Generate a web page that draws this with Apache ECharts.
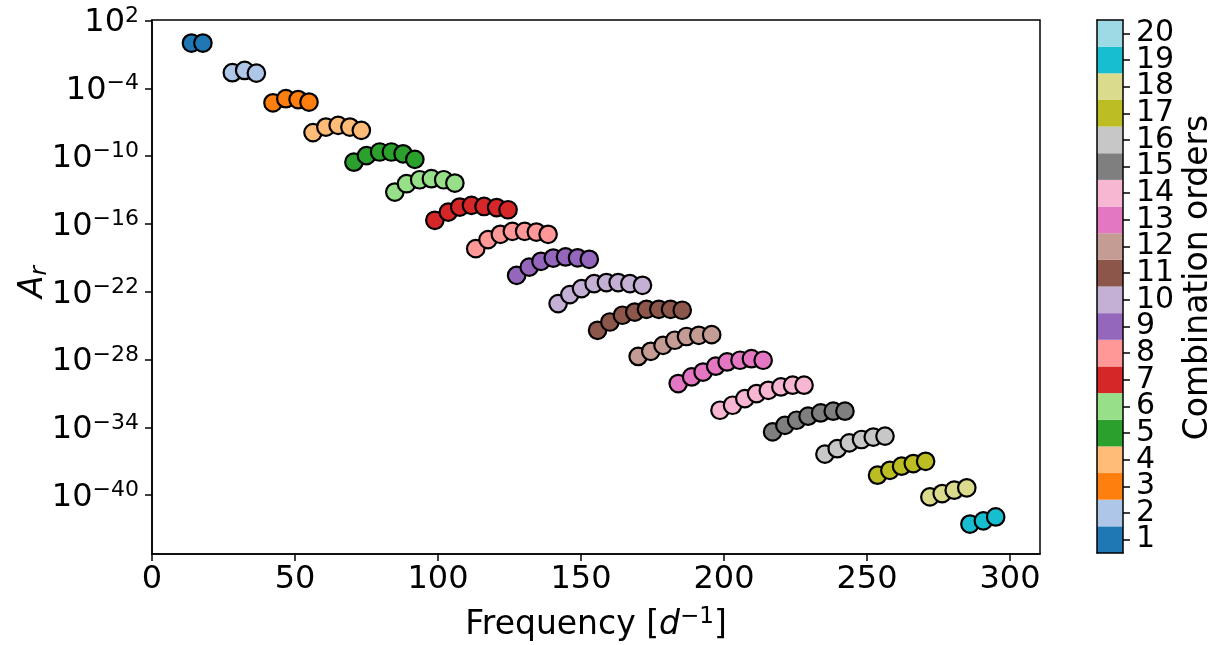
<!DOCTYPE html>
<html>
<head>
<meta charset="utf-8">
<script src="https://cdn.jsdelivr.net/npm/echarts@6/dist/echarts.min.js"></script>
<style>
html,body{margin:0;padding:0;background:#fff;}
#chart{width:1215px;height:645px;}
</style>
</head>
<body>
<div id="chart"></div>
<script>
// Combination orders (1..19 plotted; colorbar spans 1..20)
const orders = [1,2,3,4,5,6,7,8,9,10,11,12,13,14,15,16,17,18,19];

// Frequencies [d^-1] per combination order
const freqs = [
  [13.8, 17.8],
  [28.1, 32.4, 36.5],
  [42.3, 46.8, 51.1, 54.9],
  [56.3, 60.8, 65.1, 69.2, 73.2],
  [70.6, 75.0, 79.6, 83.7, 87.8, 91.9],
  [84.9, 89.0, 93.6, 97.7, 102.0, 105.9],
  [98.9, 103.6, 107.6, 111.7, 116.1, 120.5, 124.5],
  [113.2, 117.5, 121.8, 126.0, 130.3, 134.4, 138.5],
  [127.5, 131.9, 136.0, 140.3, 144.6, 148.8, 152.9],
  [142.0, 146.1, 150.2, 154.6, 158.9, 163.0, 167.1, 171.5],
  [155.8, 160.1, 164.5, 168.8, 172.9, 177.2, 181.3, 185.4],
  [170.0, 174.4, 178.7, 182.8, 186.9, 191.2, 195.7],
  [184.0, 188.7, 192.7, 197.1, 201.1, 205.6, 209.6, 213.7],
  [198.6, 203.0, 207.3, 211.4, 215.5, 219.9, 224.0, 228.0],
  [217.0, 221.3, 225.4, 229.4, 233.8, 238.2, 242.3],
  [235.3, 239.6, 243.8, 248.1, 252.2, 256.3],
  [253.7, 258.0, 262.1, 266.2, 270.5],
  [272.0, 276.3, 280.5, 284.9],
  [286.0, 290.7, 295.0]
];

// Amplitudes A_r per combination order
const amps = [
  [1.0e0, 1.0e0],
  [2.4e-3, 3.8e-3, 2.2e-3],
  [5.2e-6, 1.2e-5, 1.0e-5, 6.0e-6],
  [1.2e-8, 3.7e-8, 5.2e-8, 3.7e-8, 1.9e-8],
  [2.9e-11, 1.1e-10, 2.3e-10, 2.3e-10, 1.6e-10, 5.1e-11],
  [6.6e-14, 3.6e-13, 8.1e-13, 1.0e-12, 8.1e-13, 4.1e-13],
  [2.1e-16, 1.1e-15, 3.1e-15, 4.4e-15, 3.5e-15, 2.8e-15, 1.8e-15],
  [6.5e-19, 4.1e-18, 1.2e-17, 2.2e-17, 2.2e-17, 1.9e-17, 1.2e-17],
  [2.8e-21, 1.5e-20, 4.9e-20, 9.5e-20, 1.2e-19, 1.0e-19, 7.4e-20],
  [8.9e-24, 5.6e-23, 1.9e-22, 5.2e-22, 6.5e-22, 6.5e-22, 5.2e-22, 3.7e-22],
  [3.9e-26, 2.1e-25, 8.3e-25, 1.6e-24, 2.8e-24, 2.8e-24, 2.8e-24, 2.3e-24],
  [1.9e-28, 5.4e-28, 1.8e-27, 5.1e-27, 1.1e-26, 1.4e-26, 1.6e-26],
  [7.6e-31, 2.9e-30, 7.9e-30, 2.6e-29, 6.2e-29, 8.7e-29, 1.2e-28, 8.7e-29],
  [3.3e-33, 9.1e-33, 3.5e-32, 9.8e-32, 1.9e-31, 3.8e-31, 5.4e-31, 5.4e-31],
  [4.0e-35, 1.5e-34, 4.3e-34, 9.8e-34, 1.9e-33, 2.7e-33, 2.7e-33],
  [4.3e-37, 1.3e-36, 4.3e-36, 8.5e-36, 1.4e-35, 1.7e-35],
  [5.9e-39, 1.6e-38, 3.7e-38, 6.3e-38, 1.0e-37],
  [7.1e-41, 1.4e-40, 2.8e-40, 4.5e-40],
  [2.8e-43, 5.4e-43, 1.2e-42]
];

// tab20 colours, one per combination order 1..20
const tab20 = ['#1f77b4','#aec7e8','#ff7f0e','#ffbb78','#2ca02c','#98df8a','#d62728','#ff9896',
  '#9467bd','#c5b0d5','#8c564b','#c49c94','#e377c2','#f7b6d2','#7f7f7f','#c7c7c7',
  '#bcbd22','#dbdb8d','#17becf','#9edae5'];

// Tick labels
const cbLabels = ['1','2','3','4','5','6','7','8','9','10','11','12','13','14','15','16','17','18','19','20'];
const xTicks = [0, 50, 100, 150, 200, 250, 300];
const yTickExps = [2, -4, -10, -16, -22, -28, -34, -40];

const FONT = 'DejaVu Sans';
const yTicks = yTickExps.map(e => Math.pow(10, e));

const series = orders.map((o, i) => ({
  type: 'scatter',
  name: String(o),
  xAxisIndex: 0,
  yAxisIndex: 0,
  symbol: 'circle',
  symbolSize: 17.5,
  data: freqs[i].map((f, j) => [f, amps[i][j]]),
  itemStyle: { color: tab20[o - 1], borderColor: '#000', borderWidth: 2.2, opacity: 1 },
  emphasis: { disabled: true },
  z: 3
}));

series.push({
  type: 'bar',
  xAxisIndex: 1,
  yAxisIndex: 1,
  barWidth: '100%',
  barCategoryGap: '0%',
  data: cbLabels.map((c, i) => ({ value: 1, itemStyle: { color: tab20[i] } })),
  emphasis: { disabled: true },
  silent: true
});

const chart = echarts.init(document.getElementById('chart'), null, { renderer: 'canvas' });
chart.setOption({
  animation: false,
  backgroundColor: '#fff',
  textStyle: { fontFamily: FONT, color: '#000' },
  grid: [
    { left: 152, right: 175, top: 20, bottom: 91, show: true, borderColor: '#000', borderWidth: 1.5, backgroundColor: 'transparent', outerBoundsMode: 'none', containLabel: false },
    { left: 1097, width: 26, top: 20, bottom: 92, show: false, outerBoundsMode: 'none', containLabel: false }
  ],
  xAxis: [
    {
      gridIndex: 0, type: 'value', min: 0, max: 310.5,
      axisLine: { show: true, onZero: false, lineStyle: { color: '#000', width: 1.5 } },
      axisTick: { show: true, inside: false, length: 7, customValues: xTicks, lineStyle: { color: '#000', width: 1.5 } },
      axisLabel: { customValues: xTicks, fontSize: 32, color: '#000', fontFamily: FONT, margin: 10 },
      splitLine: { show: false },
      name: 'Frequency [{i|d}{s|\u22121}]',
      nameLocation: 'middle', nameGap: 52, nameMoveOverlap: false,
      nameTextStyle: {
        fontSize: 33, color: '#000', fontFamily: FONT, lineHeight: 38,
        rich: {
          i: { fontSize: 33, fontStyle: 'italic', fontFamily: FONT, color: '#000', lineHeight: 38 },
          s: { fontSize: 23, fontFamily: FONT, color: '#000', lineHeight: 16, verticalAlign: 'top' }
        }
      }
    },
    {
      gridIndex: 1, type: 'value', min: 0, max: 1, show: true, z: 10,
      axisLine: { show: true, onZero: false, lineStyle: { color: '#000', width: 1.5 } },
      axisTick: { show: false }, axisLabel: { show: false }, splitLine: { show: false }
    },
    {
      gridIndex: 1, type: 'value', min: 0, max: 1, position: 'top', show: true, z: 10,
      axisLine: { show: true, onZero: false, lineStyle: { color: '#000', width: 1.5 } },
      axisTick: { show: false }, axisLabel: { show: false }, splitLine: { show: false }
    }
  ],
  yAxis: [
    {
      gridIndex: 0, type: 'log', logBase: 10,
      min: Math.pow(10, -45.2), max: Math.pow(10, 2.04),
      axisLine: { show: true, onZero: false, lineStyle: { color: '#000', width: 1.5 } },
      axisTick: { show: true, inside: false, length: 7, customValues: yTicks, lineStyle: { color: '#000', width: 1.5 } },
      minorTick: { show: false },
      splitLine: { show: false },
      axisLabel: {
        customValues: yTicks, margin: 13, color: '#000', fontFamily: FONT,
        padding: [5, 0, 0, 0],
        formatter: v => {
          const e = Math.round(Math.log10(v));
          return '{b|10}{s|' + (e < 0 ? '\u2212' + (-e) : String(e)) + '}';
        },
        rich: {
          b: { fontSize: 32, fontFamily: FONT, color: '#000', lineHeight: 36 },
          s: { fontSize: 22, fontFamily: FONT, color: '#000', lineHeight: 16, verticalAlign: 'top' }
        }
      },
      name: '{a|A}{r|r}',
      nameLocation: 'middle', nameRotate: 90, nameGap: 100, nameMoveOverlap: false,
      nameTextStyle: {
        padding: [0, 0, 0, 10],
        rich: {
          a: { fontSize: 33, fontStyle: 'italic', fontFamily: FONT, color: '#000', lineHeight: 38 },
          r: { fontSize: 23, fontStyle: 'italic', fontFamily: FONT, color: '#000', lineHeight: 16, verticalAlign: 'bottom' }
        }
      }
    },
    {
      gridIndex: 1, type: 'category', data: cbLabels, position: 'right', z: 10,
      axisLine: { show: true, onZero: false, lineStyle: { color: '#000', width: 1.5 } },
      axisTick: { show: true, inside: false, length: 7, alignWithLabel: true, interval: 0, lineStyle: { color: '#000', width: 1.5 } },
      axisLabel: { show: true, interval: 0, fontSize: 30, color: '#000', fontFamily: FONT, margin: 13 },
      splitLine: { show: false },
      name: 'Combination orders',
      nameLocation: 'middle', nameRotate: 90, nameGap: 59, nameMoveOverlap: false,
      nameTextStyle: { fontSize: 33, color: '#000', fontFamily: FONT, padding: [0, 0, 0, 18] }
    },
    {
      gridIndex: 1, type: 'category', data: cbLabels, position: 'left', z: 10,
      axisLine: { show: true, onZero: false, lineStyle: { color: '#000', width: 1.5 } },
      axisTick: { show: false }, axisLabel: { show: false }, splitLine: { show: false }
    }
  ],
  series: series
});
</script>
</body>
</html>
